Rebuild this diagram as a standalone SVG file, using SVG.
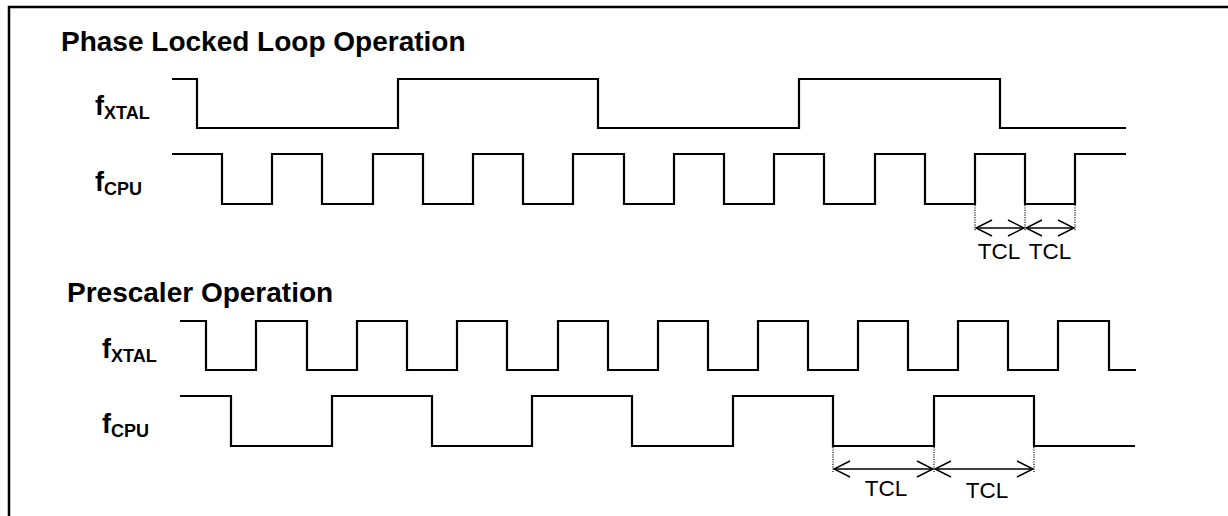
<svg xmlns="http://www.w3.org/2000/svg" width="1228" height="516" viewBox="0 0 1228 516">
<style>
.wave{fill:none;stroke:#000;stroke-width:2.2}
.title{font-family:"Liberation Sans",Arial,sans-serif;font-weight:bold;font-size:28px;fill:#000}
.lbl{font-family:"Liberation Sans",Arial,sans-serif;font-weight:bold;font-size:27px;fill:#000}
.sub{font-size:18px}
.tcl{font-family:"Liberation Sans",Arial,sans-serif;font-size:22.5px;fill:#000;text-anchor:middle}
.dot{stroke:#666;stroke-width:1.8;stroke-dasharray:1.2 1.2;fill:none}
.dim{stroke:#000;stroke-width:1.5;fill:none}
</style>
<defs>
<marker id="ah" viewBox="0 0 18 18" refX="17" refY="9" markerWidth="18" markerHeight="18" markerUnits="userSpaceOnUse" orient="auto-start-reverse">
<path d="M1,1 L17,9 L1,17" fill="none" stroke="#000" stroke-width="1.5"/>
</marker>
</defs>
<rect width="1228" height="516" fill="#fff"/>
<path d="M9,516 V7 H1228" fill="none" stroke="#000" stroke-width="2.5"/>

<g id="pll">
<text class="title" x="61" y="51">Phase Locked Loop Operation</text>
<g id="pll-fxtal">
<text class="lbl" x="95" y="115">f<tspan class="sub" dy="4">XTAL</tspan></text>
<path class="wave" d="M172,79 H197 V128 H398 V79 H598 V128 H799 V79 H1000 V128 H1126"/>
</g>
<g id="pll-fcpu">
<text class="lbl" x="95" y="191">f<tspan class="sub" dy="4">CPU</tspan></text>
<path class="wave" d="M172,154 H222 V204 H272 V154 H322 V204 H373 V154 H423 V204 H473 V154 H523 V204 H573 V154 H624 V204 H674 V154 H724 V204 H774 V154 H824 V204 H875 V154 H925 V204 H975 V154 H1025 V204 H1075 V154 H1126"/>
</g>
</g>

<g id="pre">
<text class="title" x="67" y="302">Prescaler Operation</text>
<g id="pre-fxtal">
<text class="lbl" x="102" y="358">f<tspan class="sub" dy="4">XTAL</tspan></text>
<path class="wave" d="M180,321 H206 V370 H256 V321 H307 V370 H357 V321 H407 V370 H457 V321 H507 V370 H558 V321 H608 V370 H658 V321 H708 V370 H758 V321 H808 V370 H858 V321 H908 V370 H958 V321 H1008 V370 H1058 V321 H1109 V370 H1136"/>
</g>
<g id="pre-fcpu">
<text class="lbl" x="102" y="433">f<tspan class="sub" dy="4">CPU</tspan></text>
<path class="wave" d="M180,396 H231 V446 H332 V396 H432 V446 H532 V396 H632 V446 H733 V396 H833 V446 H934 V396 H1034 V446 H1135"/>
</g>
</g>

<g id="connectors">
<path class="dot" d="M975,205 V231 M1025,205 V231 M1075,205 V231"/>
<line class="dim" x1="976" y1="228" x2="1024" y2="228" marker-start="url(#ah)" marker-end="url(#ah)"/>
<line class="dim" x1="1026" y1="228" x2="1074" y2="228" marker-start="url(#ah)" marker-end="url(#ah)"/>
<path class="dot" d="M833,447 V472 M934,447 V472 M1034,447 V472"/>
<line class="dim" x1="834" y1="469" x2="933" y2="469" marker-start="url(#ah)" marker-end="url(#ah)"/>
<line class="dim" x1="935" y1="469" x2="1033" y2="469" marker-start="url(#ah)" marker-end="url(#ah)"/>
</g>

<g id="tcl-labels">
<text class="tcl" x="999" y="259">TCL</text>
<text class="tcl" x="1050" y="259">TCL</text>
<text class="tcl" x="886" y="496">TCL</text>
<text class="tcl" x="987" y="498">TCL</text>
</g>
</svg>
